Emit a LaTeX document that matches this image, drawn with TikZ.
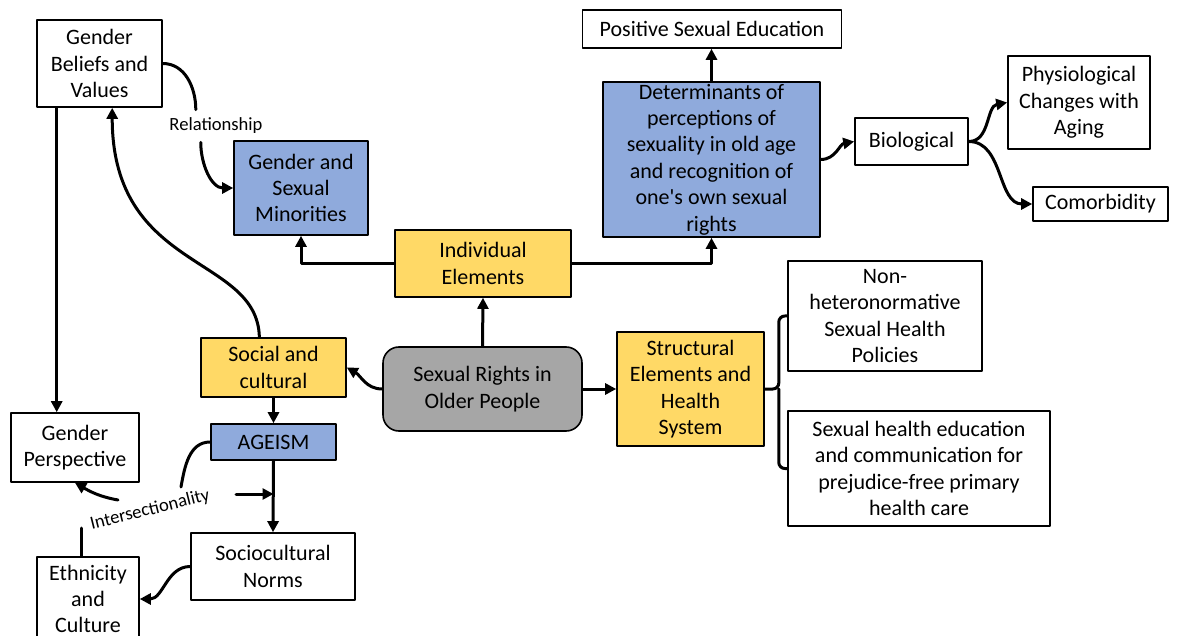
\documentclass[tikz,border=0pt]{standalone}
\usepackage{fontspec}
\setmainfont{Carlito}
\usetikzlibrary{arrows.meta}
\definecolor{boxblue}{HTML}{8FAADC}
\definecolor{boxyellow}{HTML}{FFD966}
\definecolor{boxgray}{HTML}{A6A6A6}
\tikzset{
	box/.style={draw, line width=0.8pt, align=center, inner sep=1pt, font=\fontsize{11}{13.2}\selectfont},
	bluebox/.style={box, fill=boxblue},
	yellowbox/.style={box, fill=boxyellow},
	link/.style={line width=1.5pt},
	tag/.style={inner sep=4pt, font=\fontsize{9.3}{11}\selectfont},
}
\begin{document}
\begin{tikzpicture}[x=0.5pt, y=0.5pt, line join=round, line cap=round, >={Triangle[length=5.5pt,width=5.5pt]}]
	\useasboundingbox (0,0) rectangle (1178,-636);
	\node[box, fill=boxgray, rounded corners=8pt, minimum width=99.5pt, minimum height=42pt] (srp) at (482.5,-389) {Sexual Rights in\\Older People};
	\node[yellowbox, minimum width=88pt, minimum height=33.5pt] (ind) at (483,-263.5) {Individual\\Elements};
	\node[yellowbox, minimum width=72.5pt, minimum height=29.5pt] (soc) at (273.5,-367.5) {Social and\\cultural};
	\node[yellowbox, minimum width=73.5pt, minimum height=57pt] (str) at (690.5,-389) {Structural\\Elements and\\Health\\System};
	\node[box, minimum width=62.5pt, minimum height=43.5pt] (gbv) at (99.5,-63.5) {Gender\\Beliefs and\\Values};
	\node[bluebox, minimum width=67pt, minimum height=47pt] (gsm) at (301,-188) {Gender and\\Sexual\\Minorities};
	\node[box, minimum width=129.5pt, minimum height=19pt] (pse) at (712,-29) {Positive Sexual Education};
	\node[bluebox, inner ysep=0pt, minimum width=108.5pt, minimum height=77.5pt] (det) at (711.5,-159.5) {Determinants of\\perceptions of\\sexuality in old age\\and recognition of\\one\textquotesingle s own sexual\\rights};
	\node[box, minimum width=56.5pt, minimum height=23.5pt] (bio) at (911.5,-141.5) {Biological};
	\node[box, minimum width=71pt, minimum height=46.5pt] (phys) at (1079,-102.5) {Physiological\\Changes with\\Aging};
	\node[box, minimum width=67.5pt, minimum height=17pt] (com) at (1100.5,-204) {Comorbidity};
	\node[box, minimum width=97pt, minimum height=55pt] (nhp) at (885,-316) {Non-\\heteronormative\\Sexual Health\\Policies};
	\node[box, minimum width=131pt, minimum height=57.5pt] (she) at (919,-468.5) {Sexual health education\\and communication for\\prejudice-free primary\\health care};
	\node[bluebox, minimum width=62.5pt, minimum height=18pt] (age) at (273.5,-442) {AGEISM};
	\node[box, minimum width=64pt, minimum height=34.5pt] (gp) at (75,-447.5) {Gender\\Perspective};
	\node[box, minimum width=82pt, minimum height=33.5pt] (scn) at (273,-566.5) {Sociocultural\\Norms};
	\node[box, minimum width=51pt, minimum height=42pt] (eth) at (88,-599) {Ethnicity\\and\\Culture};
	\node[tag] (rel) at (216,-126) {Relationship};
	\node[tag, rotate=14] (inter) at (150,-510) {Intersectionality};
	\coordinate (iu) at (181,-487);
	\coordinate (il) at (118,-500);
	\coordinate (id) at (81,-528);
	\coordinate (ir) at (236,-494);
	\draw[link, ->] (srp.north) -- (ind.south);
	\draw[link, ->] (ind.west) -| (gsm.south);
	\draw[link, ->] (ind.east) -| (det.south);
	\draw[link, ->] (det.north) -- (det.north |- pse.south);
	\draw[link, ->] (det.east) to[out=0, in=190] (bio.west);
	\draw[link, ->] (bio.east) to[out=0, in=190] (phys.west);
	\draw[link, ->] (bio.east) to[out=0, in=180] (com.west);
	\draw[link, ->] (srp.east) -- (str.west);
	\draw[link, rounded corners=3pt] (str.east) -- ++(14,0) coordinate (fork) |- (nhp.west);
	\draw[link, rounded corners=3pt] (fork) |- (she.west);
	\draw[link, ->] (srp.west) to[out=180, in=-30] (soc.east);
	\draw[link, ->] (soc.115) .. controls +(-2,83) and +(0,-165) .. (gbv.-74);
	\draw[link, ->] (gbv.-134) -- (gbv.-134 |- gp.north);
	\draw[link] (gbv.east) to[out=0, in=90] (rel.141);
	\draw[link, ->] (rel.-133) to[out=-90, in=180] (gsm.west);
	\draw[link, ->] (soc.south) -- (age.north);
	\draw[link, ->] (age.south) -- (scn.north);
	\draw[link] (age.west) to[out=180, in=80] (iu);
	\draw[link, ->] (il) to[out=170, in=-30] (gp.south);
	\draw[link] (id) -- (id |- eth.north);
	\draw[link, ->] (ir) -- (ir -| age.south);
	\draw[link, ->] (scn.west) to[out=180, in=0] (eth.east);
\end{tikzpicture}
\end{document}
